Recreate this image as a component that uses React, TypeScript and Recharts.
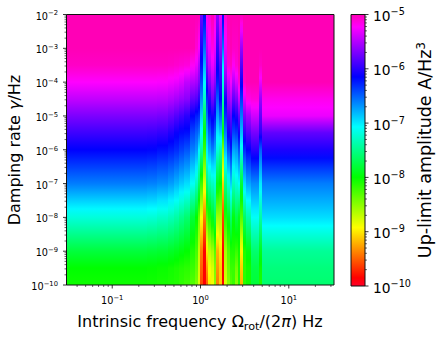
import { ReferenceArea, ScatterChart, XAxis, YAxis } from "recharts";

// rows of every column, log10 of the damping rate (Hz)
const gammaRows = [-2, -3, -3.5, -4, -4.5, -5, -5.5, -6, -7, -8, -9, -9.5, -10];

// left edge of each column, log10 of the frequency (Hz)
const columnEdges = [
  -1.518, -0.61, -0.489, -0.367, -0.306, -0.245, -0.185, -0.124, -0.064, -0.033, -0.003, 0.027, 0.058, 0.088, 0.118,
  0.149, 0.179, 0.209, 0.239, 0.27, 0.3, 0.33, 0.361, 0.391, 0.421, 0.452, 0.482, 0.512, 0.573, 0.664, 0.694, 1.512,
];

// log10 of the up-limit amplitude, one row of numbers per column
const amplitudes = [
  [-5, -5, -5.05, -5.23, -5.45, -5.7, -5.93, -6.15, -6.6, -7.2, -7.78, -8.0, -8.05],
  [-5, -5, -5.05, -5.23, -5.45, -5.7, -5.94, -6.16, -6.62, -7.22, -7.8, -8.01, -8.06],
  [-5, -5, -5.05, -5.24, -5.46, -5.72, -5.97, -6.2, -6.66, -7.27, -7.82, -8.03, -8.08],
  [-5, -5, -5.06, -5.27, -5.5, -5.78, -6.04, -6.25, -6.72, -7.33, -7.86, -8.06, -8.1],
  [-5, -5, -5.08, -5.3, -5.55, -5.85, -6.12, -6.3, -6.8, -7.4, -7.9, -8.09, -8.12],
  [-5, -5, -5.1, -5.35, -5.6, -5.92, -6.18, -6.38, -6.88, -7.5, -7.95, -8.12, -8.17],
  [-5, -5, -5.12, -5.45, -5.65, -6.0, -6.2, -6.45, -6.95, -7.6, -8.0, -8.15, -8.22],
  [-5, -5, -5.2, -5.5, -5.8, -6.15, -6.4, -6.6, -7.1, -7.8, -8.1, -8.2, -8.3],
  [-5, -5.1, -5.3, -5.55, -5.85, -6.25, -6.5, -6.7, -7.3, -8.0, -8.25, -8.35, -8.45],
  [-5, -5.25, -5.5, -5.7, -6.0, -6.3, -6.6, -7.05, -7.65, -8.4, -8.7, -8.75, -8.8],
  [-5.75, -6.05, -6.2, -6.4, -6.65, -6.9, -7.1, -7.4, -8.2, -8.9, -9.4, -9.5, -9.6],
  [-6.15, -6.55, -6.8, -7.05, -7.3, -7.7, -8.0, -8.2, -8.8, -9.4, -9.85, -9.85, -9.85],
  [-5.2, -5.5, -5.7, -6.0, -6.3, -6.55, -6.8, -7.0, -7.6, -8.3, -9.0, -9.3, -9.5],
  [-5.1, -5.3, -5.45, -5.7, -6.0, -6.2, -6.5, -6.75, -7.4, -8.1, -8.7, -8.9, -9.0],
  [-5, -5.15, -5.3, -5.5, -5.75, -6.1, -6.3, -6.6, -7.3, -7.9, -8.6, -8.8, -8.9],
  [-5.15, -5.3, -5.45, -5.65, -5.95, -6.2, -6.5, -6.75, -7.2, -7.7, -8.3, -8.45, -8.5],
  [-5.6, -5.95, -6.1, -6.25, -6.5, -6.75, -7.0, -7.2, -7.9, -8.6, -9.2, -9.3, -9.4],
  [-5.3, -5.6, -5.85, -6.0, -6.15, -6.5, -6.9, -7.35, -8.0, -8.6, -9.0, -9.1, -9.1],
  [-6.1, -6.6, -7.0, -7.2, -7.4, -7.7, -8.0, -8.5, -9.1, -9.6, -9.85, -9.85, -9.85],
  [-5.1, -5.3, -5.45, -5.7, -6.1, -6.3, -6.6, -6.85, -7.5, -8.1, -8.6, -8.7, -8.8],
  [-5, -5.05, -5.1, -5.4, -5.6, -5.9, -6.1, -6.45, -7.2, -7.9, -8.3, -8.4, -8.5],
  [-5, -5, -5.05, -5.25, -5.5, -5.8, -6.0, -6.25, -6.9, -7.6, -8.1, -8.2, -8.3],
  [-5, -5.05, -5.2, -5.5, -5.8, -6.15, -6.4, -6.75, -7.3, -7.95, -8.1, -8.2, -8.2],
  [-5, -5.05, -5.1, -5.35, -5.7, -6.05, -6.35, -6.7, -7.2, -7.75, -8.2, -8.4, -8.5],
  [-5, -5, -5, -5.1, -5.4, -5.8, -6.1, -6.45, -7.1, -7.9, -8.05, -8.1, -8.1],
  [-5, -5.6, -5.85, -6.1, -6.35, -6.6, -6.85, -7.15, -7.8, -8.3, -8.95, -9.1, -9.2],
  [-5, -5, -5, -5.05, -5.35, -5.7, -6.0, -6.3, -6.95, -7.65, -8.1, -8.15, -8.15],
  [-5, -5, -5, -5, -5.15, -5.55, -5.85, -6.15, -6.75, -7.4, -7.95, -8.05, -8.05],
  [-5, -5, -5, -5, -5.12, -5.4, -5.72, -6.0, -6.65, -7.1, -7.6, -7.75, -7.8],
  [-5, -5, -5.05, -5.3, -5.6, -5.8, -6.0, -6.5, -7.0, -7.4, -7.9, -8.05, -8.1],
  [-5, -5, -5, -5, -5.17, -5.3, -5.8, -6.05, -6.6, -6.95, -7.45, -7.55, -7.6],
];

// matplotlib gist_rainbow: position, r, g, b
const rainbowStops = [
  [0, 255, 0, 41],
  [0.03, 255, 0, 0],
  [0.215, 255, 255, 0],
  [0.4, 0, 255, 0],
  [0.586, 0, 255, 255],
  [0.77, 0, 0, 255],
  [0.954, 255, 0, 255],
  [1, 255, 0, 182],
];

const freqDecades = [-2, -1, 0, 1];
const freqLabels = [-1, 0, 1];
const gammaDecades = [-10, -9, -8, -7, -6, -5, -4, -3, -2];
const ampDecades = [-10, -9, -8, -7, -6, -5];
const minorSteps = [2, 3, 4, 5, 6, 7, 8, 9];

const freqDomain = [Math.pow(10, -1.518), Math.pow(10, 1.512)];
const gammaDomain = [1e-10, 1e-2];
const ampDomain = [1e-10, 1e-5];

const FONT = "'DejaVu Sans', sans-serif";

function rainbow(t: number): string {
  const v = Math.min(1, Math.max(0, t));
  for (let i = 1; i < rainbowStops.length; i++) {
    const a = rainbowStops[i - 1];
    const b = rainbowStops[i];
    if (v <= b[0]) {
      const k = (v - a[0]) / (b[0] - a[0]);
      const mix = (c: number) => Math.round(a[c] + (b[c] - a[c]) * k);
      return `rgb(${mix(1)},${mix(2)},${mix(3)})`;
    }
  }
  return "rgb(255,0,182)";
}

function ampColor(logAmp: number): string {
  return rainbow((logAmp + 10) / 5);
}

function withMinors(decades: number[], domain: number[]): number[] {
  const out: number[] = [];
  decades.forEach((d) => {
    out.push(Math.pow(10, d));
    minorSteps.forEach((m) => out.push(m * Math.pow(10, d)));
  });
  return out.filter((v) => v >= domain[0] && v <= domain[1]);
}

function exponentOf(value: number, labelled: number[]): number | null {
  const e = Math.round(Math.log10(value));
  if (Math.abs(Math.log10(value) - e) > 0.001) return null;
  return labelled.includes(e) ? e : null;
}

function PowerText({ x, y, exp, size, anchor }: { x: number; y: number; exp: number; size: number; anchor: "start" | "middle" | "end" }) {
  return (
    <text x={x} y={y} fontSize={size} fontFamily={FONT} fill="#000" textAnchor={anchor}>
      10
      <tspan fontSize={size * 0.7} dy={-size * 0.42}>
        {String(exp).replace("-", "\u2212")}
      </tspan>
    </text>
  );
}

function FreqTick({ x, y, payload }: any) {
  const exp = exponentOf(payload.value, freqLabels);
  const major = Math.abs(Math.log10(payload.value) % 1) < 0.001;
  return (
    <g>
      <line x1={x} x2={x} y1={y} y2={y + (major ? 3.5 : 2)} stroke="#000" strokeWidth={major ? 0.8 : 0.6} />
      {exp !== null && <PowerText x={x} y={y + 19} exp={exp} size={9.7} anchor="middle" />}
    </g>
  );
}

function GammaTick({ x, y, payload }: any) {
  const exp = exponentOf(payload.value, gammaDecades);
  return (
    <g>
      <line x1={x - (exp !== null ? 3.5 : 2)} x2={x} y1={y} y2={y} stroke="#000" strokeWidth={exp !== null ? 0.8 : 0.6} />
      {exp !== null && <PowerText x={x - 8.5} y={y + 5} exp={exp} size={9.7} anchor="end" />}
    </g>
  );
}

function AmpTick({ x, y, payload }: any) {
  const exp = exponentOf(payload.value, ampDecades);
  return (
    <g>
      <line x1={x} x2={x + (exp !== null ? 3.5 : 2)} y1={y} y2={y} stroke="#000" strokeWidth={exp !== null ? 0.8 : 0.6} />
      {exp !== null && <PowerText x={x + 8} y={y + 6.5} exp={exp} size={13.8} anchor="start" />}
    </g>
  );
}

// one vertical gradient per column, stops placed at the rows of the table
function ColumnGradient({ id, values }: { id: string; values: number[] }) {
  const stops: { offset: number; color: string }[] = [];
  values.forEach((v, i) => {
    const offset = (-2 - gammaRows[i]) / 8;
    stops.push({ offset, color: ampColor(v) });
    if (i < values.length - 1) {
      const next = values[i + 1];
      const nextOffset = (-2 - gammaRows[i + 1]) / 8;
      for (let s = 1; s < 4; s++) {
        stops.push({
          offset: offset + ((nextOffset - offset) * s) / 4,
          color: ampColor(v + ((next - v) * s) / 4),
        });
      }
    }
  });
  return (
    <linearGradient id={id} x1="0" y1="0" x2="0" y2="1">
      {stops.map((s, i) => (
        <stop key={i} offset={`${(s.offset * 100).toFixed(2)}%`} stopColor={s.color} />
      ))}
    </linearGradient>
  );
}

export default function App() {
  const columns = amplitudes.map((values, i) => ({
    id: `col${i}`,
    values,
    x1: Math.pow(10, columnEdges[i]),
    x2: Math.pow(10, columnEdges[i + 1]),
  }));

  return (
    <div style={{ position: "absolute", left: 0, top: 0, width: 446, height: 337, background: "#fff" }}>
      <div style={{ position: "absolute", left: 0, top: 0 }}>
        <ScatterChart width={446} height={337} margin={{ top: 14.5, right: 112, bottom: 22, left: 6.5 }}>
          <defs>
            {columns.map((c) => (
              <ColumnGradient key={c.id} id={c.id} values={c.values} />
            ))}
          </defs>
          <XAxis
            type="number"
            dataKey="x"
            scale="log"
            domain={freqDomain}
            allowDataOverflow
            ticks={withMinors(freqDecades, freqDomain)}
            interval={0}
            height={30}
            tickSize={0}
            tickMargin={0}
            tickLine={false}
            axisLine={false}
            tick={<FreqTick />}
          />
          <YAxis
            type="number"
            dataKey="y"
            scale="log"
            domain={gammaDomain}
            allowDataOverflow
            ticks={withMinors(gammaDecades, gammaDomain)}
            interval={0}
            width={60}
            tickSize={0}
            tickMargin={0}
            tickLine={false}
            axisLine={false}
            tick={<GammaTick />}
          />
          {columns.map((c) => (
            <ReferenceArea
              key={c.id}
              x1={c.x1}
              x2={c.x2}
              y1={gammaDomain[0]}
              y2={gammaDomain[1]}
              fill={`url(#${c.id})`}
              fillOpacity={1}
              stroke="none"
              shapeRendering="crispEdges"
            />
          ))}
          <ReferenceArea
            x1={freqDomain[0]}
            x2={freqDomain[1]}
            y1={gammaDomain[0]}
            y2={gammaDomain[1]}
            fill="none"
            stroke="#111"
            strokeWidth={1}
          />
          <text x={200} y={326.5} textAnchor="middle" fontSize={16} fontFamily={FONT} fill="#000">
            Intrinsic frequency Ω
            <tspan fontSize={11.2} dy={3}>
              rot
            </tspan>
            <tspan dy={-3}>/(2</tspan>
            <tspan fontStyle="italic">π</tspan>) Hz
          </text>
          <text
            transform="translate(20 150) rotate(-90)"
            textAnchor="middle"
            fontSize={16}
            fontFamily={FONT}
            fill="#000"
          >
            Damping rate <tspan fontStyle="italic">γ</tspan>/Hz
          </text>
        </ScatterChart>
      </div>
      <div style={{ position: "absolute", left: 0, top: 0 }}>
        <ScatterChart width={446} height={337} margin={{ top: 14.5, right: 41, bottom: 51, left: 351 }}>
          <defs>
            <linearGradient id="ampBar" x1="0" y1="1" x2="0" y2="0">
              {rainbowStops.map((s) => (
                <stop key={s[0]} offset={`${s[0] * 100}%`} stopColor={`rgb(${s[1]},${s[2]},${s[3]})`} />
              ))}
            </linearGradient>
          </defs>
          <XAxis type="number" dataKey="x" domain={[0, 1]} allowDataOverflow hide />
          <YAxis
            type="number"
            dataKey="y"
            orientation="right"
            scale="log"
            domain={ampDomain}
            allowDataOverflow
            ticks={withMinors(ampDecades, ampDomain)}
            interval={0}
            width={40}
            tickSize={0}
            tickMargin={0}
            tickLine={false}
            axisLine={false}
            tick={<AmpTick />}
          />
          <ReferenceArea
            x1={0}
            x2={1}
            y1={ampDomain[0]}
            y2={ampDomain[1]}
            fill="url(#ampBar)"
            fillOpacity={1}
            stroke="#111"
            strokeWidth={1}
          />
          <text
            transform="translate(431 150) rotate(-90)"
            textAnchor="middle"
            fontSize={17.5}
            fontFamily={FONT}
            fill="#000"
          >
            Up-limit amplitude A/Hz
            <tspan fontSize={12.2} dy={-6}>
              3
            </tspan>
          </text>
        </ScatterChart>
      </div>
    </div>
  );
}
